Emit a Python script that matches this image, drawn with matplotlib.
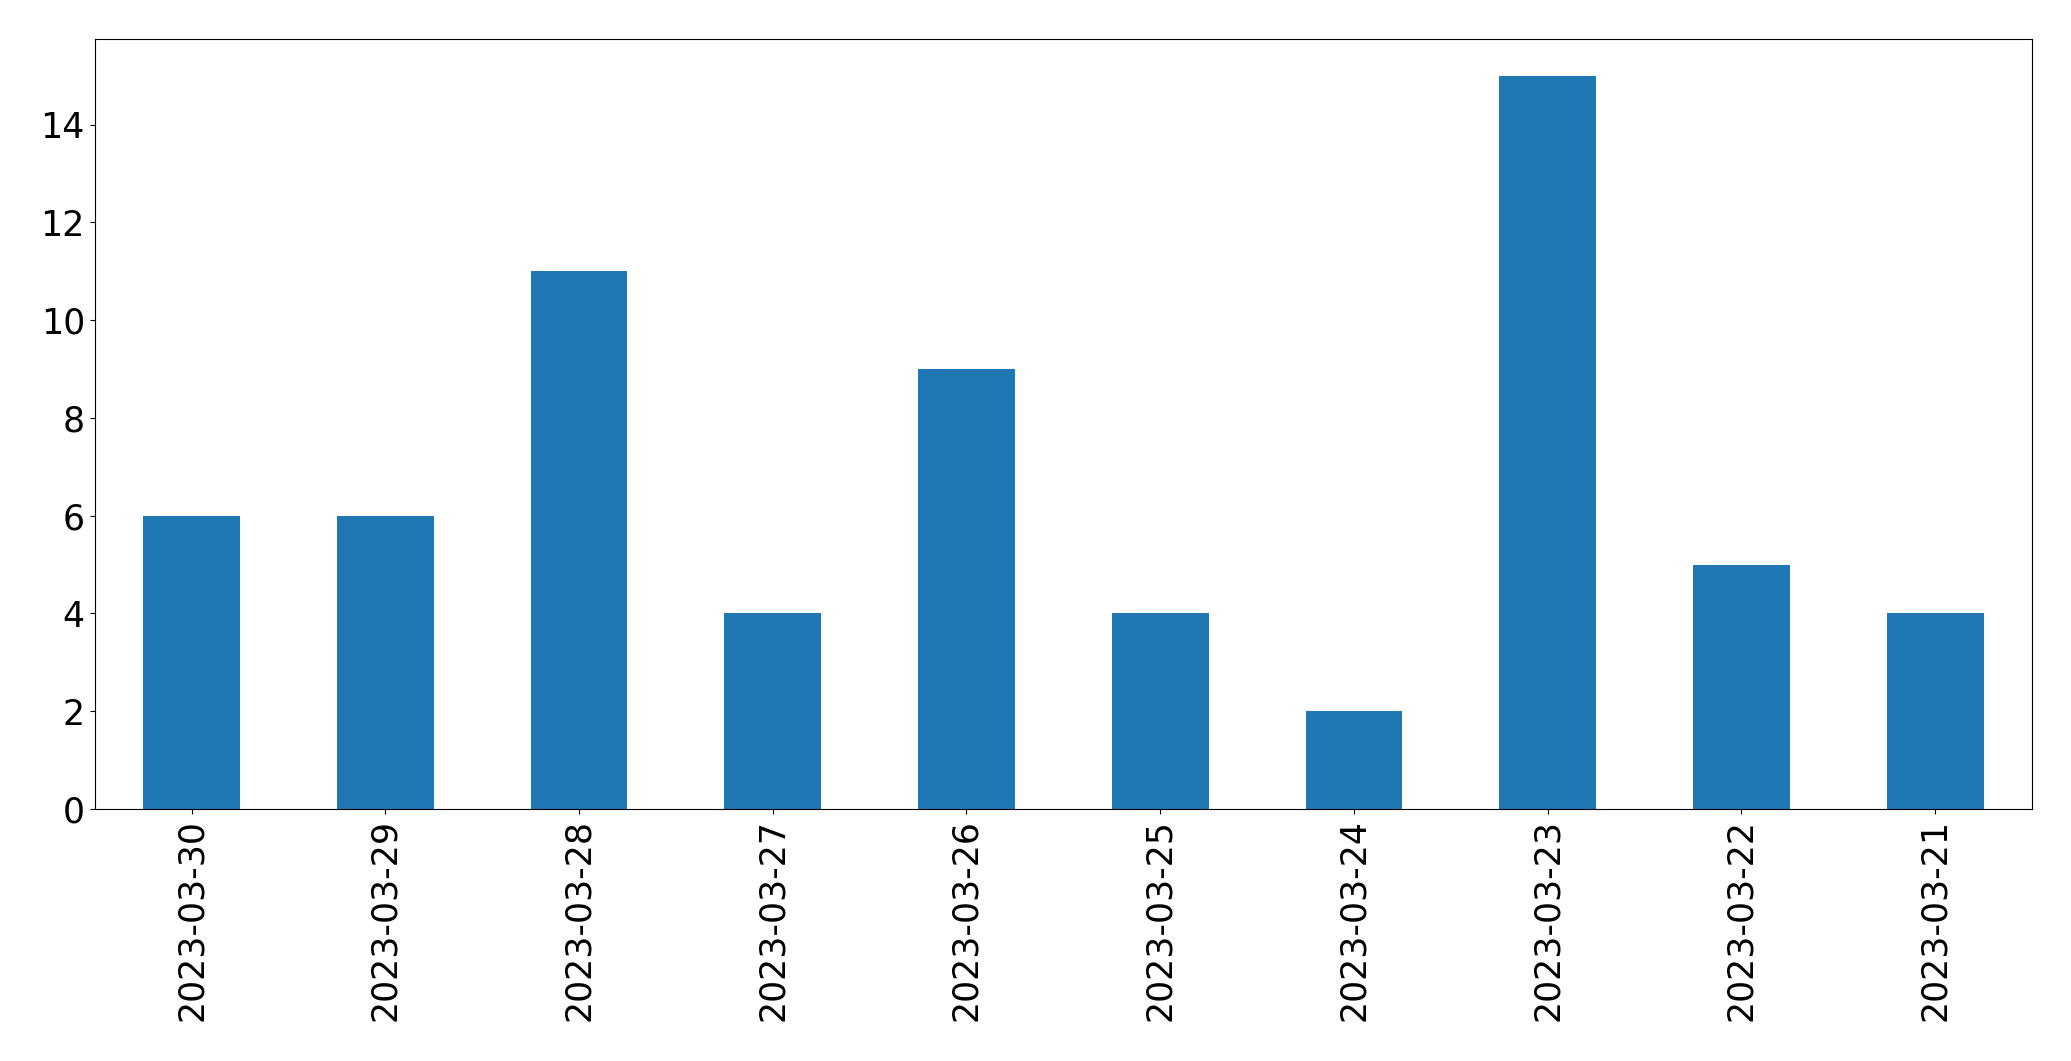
import pandas as pd
import matplotlib
matplotlib.use('Agg')
import matplotlib.pyplot as plt

dates = ['2023-03-30', '2023-03-29', '2023-03-28', '2023-03-27', '2023-03-26',
         '2023-03-25', '2023-03-24', '2023-03-23', '2023-03-22', '2023-03-21']
counts = [6, 6, 11, 4, 9, 4, 2, 15, 5, 4]

data = pd.Series(counts, index=dates)

fig = plt.figure(figsize=(20.71, 10.61), dpi=100)
ax = fig.add_axes([0.0457, 0.2375, 0.9355, 0.7257])
data.plot(kind='bar', ax=ax, fontsize=25)
fig.savefig('out.png', dpi=100)
